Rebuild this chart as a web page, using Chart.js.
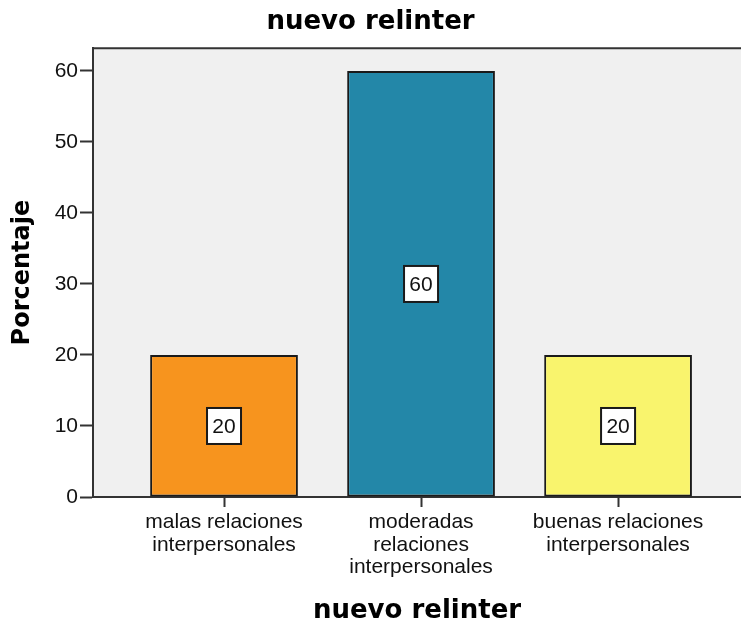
<!DOCTYPE html>
<html>
<head>
<meta charset="utf-8">
<script src="https://cdn.jsdelivr.net/npm/chart.js@4"></script>
<style>
  html, body { margin: 0; padding: 0; background: #ffffff; }
  #wrap { width: 741px; height: 627px; }
</style>
</head>
<body>
<div id="wrap"><canvas id="c" width="741" height="627"></canvas></div>
<script>
// Categories (split into display lines) and percentages
const categories = [
  ['malas relaciones', 'interpersonales'],
  ['moderadas', 'relaciones', 'interpersonales'],
  ['buenas relaciones', 'interpersonales']
];
const percentages = [20, 60, 20];
const barColors = ['#f7941e', '#2387a8', '#f9f46d'];
const yTicks = [0, 10, 20, 30, 40, 50, 60];

const chartTitle = 'nuevo relinter';
const xTitle = 'nuevo relinter';
const yTitle = 'Porcentaje';

const axisColor = '#333333';

// Grey plot background and the frame line across the top
const plotFrame = {
  id: 'plotFrame',
  beforeDraw(chart) {
    const { ctx, chartArea: a } = chart;
    ctx.save();
    ctx.fillStyle = '#f0f0f0';
    ctx.fillRect(a.left, a.top, a.right - a.left, a.bottom - a.top);
    ctx.strokeStyle = axisColor;
    ctx.lineWidth = 2;
    ctx.beginPath();
    ctx.moveTo(a.left, a.top);
    ctx.lineTo(a.right, a.top);
    ctx.stroke();
    ctx.restore();
  }
};

// Boxed value label in the middle of each bar
const boxedLabels = {
  id: 'boxedLabels',
  afterDatasetsDraw(chart) {
    const { ctx } = chart;
    const meta = chart.getDatasetMeta(0);
    const ds = chart.data.datasets[0];
    ctx.save();
    ctx.font = '21px "Liberation Sans", Arial, sans-serif';
    ctx.textAlign = 'center';
    ctx.textBaseline = 'middle';
    meta.data.forEach((bar, i) => {
      const v = ds.data[i].y;
      const cx = bar.x;
      const cy = chart.scales.y.getPixelForValue(v / 2);
      const w = 34, h = 36;
      ctx.fillStyle = '#ffffff';
      ctx.fillRect(cx - w / 2, cy - h / 2, w, h);
      ctx.strokeStyle = '#1a1a1a';
      ctx.lineWidth = 2;
      ctx.strokeRect(cx - w / 2, cy - h / 2, w, h);
      ctx.fillStyle = '#111111';
      ctx.fillText(String(v), cx, cy + 1);
    });
    ctx.restore();
  }
};

new Chart(document.getElementById('c'), {
  type: 'bar',
  data: {
    datasets: [{
      data: percentages.map((v, i) => ({ x: i, y: v })),
      backgroundColor: barColors,
      borderColor: '#1a1a1a',
      borderWidth: 2,
      borderSkipped: false,
      categoryPercentage: 1,
      barPercentage: 0.75
    }]
  },
  options: {
    responsive: false,
    animation: false,
    devicePixelRatio: 1,
    layout: { padding: { left: 0, right: 0, top: 0, bottom: 0 } },
    plugins: {
      legend: { display: false },
      tooltip: { enabled: false },
      title: {
        display: true,
        text: chartTitle,
        color: '#000000',
        font: { family: '"DejaVu Sans", Verdana, sans-serif', size: 26, weight: 'bold', lineHeight: 1.2 },
        padding: { top: 7, bottom: 10 }
      }
    },
    scales: {
      x: {
        type: 'linear',
        offset: false,
        min: -0.665,
        max: 2.624,
        afterBuildTicks(scale) {
          scale.ticks = categories.map((c, i) => ({ value: i }));
        },
        afterFit(scale) { scale.height = 130; },
        ticks: {
          autoSkip: false,
          maxRotation: 0,
          color: '#111111',
          padding: 4,
          font: { family: '"Liberation Sans", Arial, sans-serif', size: 21, lineHeight: 1.08 },
          callback: (v) => categories[v]
        },
        grid: {
          offset: false,
          drawOnChartArea: false,
          drawTicks: true,
          tickLength: 10,
          tickWidth: 2,
          tickColor: axisColor
        },
        border: { display: true, color: axisColor, width: 2 },
        title: {
          display: true,
          text: xTitle,
          color: '#000000',
          font: { family: '"DejaVu Sans", Verdana, sans-serif', size: 26, weight: 'bold', lineHeight: 1.2 },
          padding: { top: 0, bottom: 0 }
        }
      },
      y: {
        min: 0,
        max: 63.2,
        afterBuildTicks(scale) {
          scale.ticks = yTicks.map(v => ({ value: v }));
        },
        afterFit(scale) { scale.width = 93; },
        ticks: {
          color: '#111111',
          padding: 2,
          font: { family: '"Liberation Sans", Arial, sans-serif', size: 21 }
        },
        grid: {
          drawOnChartArea: false,
          drawTicks: true,
          tickLength: 13,
          tickWidth: 2,
          tickColor: axisColor
        },
        border: { display: true, color: axisColor, width: 2 },
        title: {
          display: true,
          text: yTitle,
          color: '#000000',
          font: { family: '"DejaVu Sans", Verdana, sans-serif', size: 24, weight: 'bold', lineHeight: 1.2 },
          padding: { top: 8, bottom: 0 }
        }
      }
    }
  },
  plugins: [plotFrame, boxedLabels]
});
</script>
</body>
</html>
